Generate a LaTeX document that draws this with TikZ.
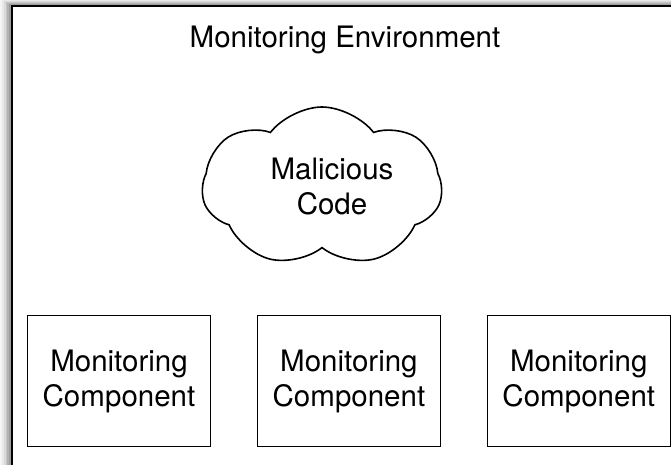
\documentclass[tikz,border=0pt]{standalone}
\usepackage{fontspec}
\setmainfont{TeX Gyre Heros}
\usetikzlibrary{positioning,shapes.symbols}
\tikzset{env frame/.style={draw, line width=2pt, fill=white}}
\tikzset{code cloud/.style={draw, line width=1.6pt, cloud, cloud puffs=7, cloud puff arc=105, aspect=1.5, shape border rotate=-12, inner sep=0pt, minimum width=240pt, minimum height=160pt}}
\tikzset{component box/.style={draw, line width=1.4pt, inner sep=0pt, minimum width=183pt, minimum height=131pt, align=center}}

\begin{document}
\begin{tikzpicture}[x=1pt, y=-1pt, font=\fontsize{29.5}{35}\selectfont]
\useasboundingbox (0,0) rectangle (671,465);
\clip (0,0) rectangle (671,465);

% shadow of the frame
\foreach \k/\o in {6/4,5/9,4/15,3/22,2/30,1/38}
	\fill[black!\o] (11-1.8*\k,5-0.9*\k) rectangle (700,500);
\node[env frame, inner sep=0pt, minimum width=720pt, minimum height=520pt, anchor=north west] (env) at (11,5) {};
\node[anchor=base] (env title) at (345,48) {Monitoring Environment};

\node[code cloud] (malware) at (322,187) {};
\node[align=center] (malware text) at (332,187) {Malicious\\Code};

\node[component box] (comp1) at (119,381) {Monitoring\\Component};
\node[component box, right=45.5pt of comp1] (comp2) {Monitoring\\Component};
\node[component box, right=45.5pt of comp2] (comp3) {Monitoring\\Component};

\end{tikzpicture}
\end{document}
